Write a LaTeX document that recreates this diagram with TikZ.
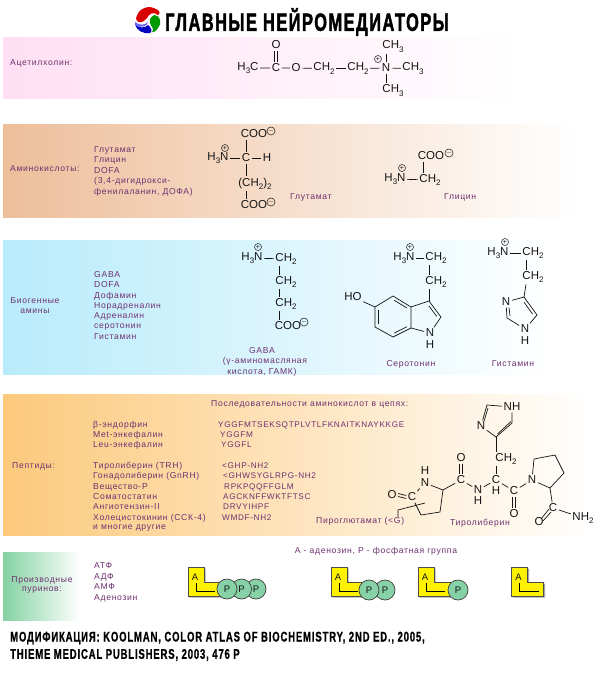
\documentclass[tikz,border=0pt]{standalone}
\usepackage{fontspec}
\setmainfont{Liberation Sans}
\newfontfamily\labfont[LetterSpace=8]{Liberation Sans}
\newfontfamily\chemfont{Liberation Sans}
\newfontfamily\headfont[FakeStretch=0.655,FakeBold=1.6,LetterSpace=6]{Liberation Sans Bold}
\newfontfamily\footfont[FakeStretch=0.68,FakeBold=0.8,LetterSpace=6]{Liberation Sans Bold}
\usetikzlibrary{calc}
\definecolor{labcol}{HTML}{6E3070}
\definecolor{chemc}{HTML}{151515}
\definecolor{pg}{HTML}{86D2A6}
\definecolor{bpink}{HTML}{FFDFF3}
\definecolor{bbrown}{HTML}{EDBE9A}
\definecolor{bcyan}{HTML}{B8EBFB}
\definecolor{borange}{HTML}{FCC97C}
\definecolor{bgreen}{HTML}{84D2A2}
\newcommand{\lo}[1]{\raisebox{-0.28em}{\fontsize{8}{8}\selectfont #1}}
\tikzset{
 x=1pt,y=-1pt,
 lab/.style={text=labcol,inner sep=0pt,anchor=west,font=\labfont\fontsize{8.6}{9}\selectfont},
 seq/.style={lab,font=\labfont\fontsize{8.2}{9}\selectfont},
 labm/.style={lab,anchor=center,align=center},
 chem/.style={text=chemc,inner sep=1.5pt,font=\chemfont\fontsize{11.5}{12}\selectfont},
 bond/.style={draw=chemc,line width=0.7pt},
 chg/.style={circle,draw=chemc,line width=0.5pt,minimum size=7pt,inner sep=0pt,text=chemc,font=\chemfont\fontsize{7}{7}\selectfont},
 ell/.style={draw=black!70,line width=0.7pt,fill=yellow},
 shad/.style={fill=black!35,draw=none},
 pcirc/.style={circle,draw=black!75,line width=0.7pt,fill=pg,minimum size=20pt,inner sep=0pt,text=chemc,font=\chemfont\fontsize{9.5}{10}\selectfont},
 lettera/.style={inner sep=0pt,text=chemc,font=\chemfont\fontsize{9.5}{10}\selectfont},
 foot/.style={inner sep=0pt,anchor=west,text=black,font=\footfont\fontsize{14}{14}\selectfont},
}
\newcommand{\ellshape}[3]{%
  \fill[shad] (#1+1.5,#2+1.5) -- ++(16,0) -- ++(0,15) -- ++(16,0) -- ++(0,14) -- ++(-32,0) -- cycle;
  \draw[ell] (#1,#2) -- ++(16,0) -- ++(0,15) -- ++(16,0) -- ++(0,14) -- ++(-32,0) -- cycle;
  \node[lettera] (#3a) at (#1+7,#2+10) {A};
  \coordinate (#3p) at (#1+8,#2+16);
  \coordinate (#3q) at (#1+8,#2+24);
  \coordinate (#3r) at (#1+27,#2+24);
  \draw[draw=black,line width=0.7pt] (#3p) -- (#3q) -- (#3r);
}
\begin{document}
\begin{tikzpicture}
\useasboundingbox (0,0) rectangle (600,673);
\fill[white] (0,0) rectangle (600,673);
% bands
\shade[left color=bpink,right color=white] (3,37) rectangle (520,98);
\shade[left color=bbrown,right color=white] (3,124) rectangle (575,217);
\shade[left color=bcyan,right color=white] (3,240) rectangle (550,374);
\shade[left color=borange,right color=white] (3,394) rectangle (590,535);
\shade[left color=bgreen,right color=white] (3,552) rectangle (80,620);
% logo
\fill[red!85!black] (136,19) .. controls (137,10) and (146,5) .. (154,8) .. controls (160,10) and (161,14) .. (158,15) .. controls (153,11) and (149,14) .. (147,18) .. controls (144,22) and (138,25) .. (136,19) -- cycle;
\fill[green!60!black] (155,15) .. controls (161,16) and (162,24) .. (158,28) .. controls (156,31) and (153,33) .. (152,32) .. controls (155,29) and (151,27) .. (150,23) .. controls (149,19) and (152,15) .. (155,15) -- cycle;
\fill[blue!75!black] (135,24) .. controls (137,31) and (143,34) .. (150,33) .. controls (153,32) and (151,27) .. (148,25) .. controls (145,28) and (139,29) .. (135,24) -- cycle;
\fill[blue!60] (135,22) .. controls (140,26) and (145,25) .. (148,22) .. controls (148,26) and (140,29) .. (135,25) -- cycle;
% title
\node[inner sep=0pt,anchor=west,text=black,font=\headfont\fontsize{25}{25}\selectfont] (title) at (165,22) {ГЛАВНЫЕ НЕЙРОМЕДИАТОРЫ};
% acetylcholine
\node[lab] (l1) at (10,63) {Ацетилхолин:};
\node[chem] (a1) at (248,68) {H\lo{3}C};
\node[chem] (a2) at (276,68) {C};
\node[chem] (a3) at (276,45) {O};
\node[chem] (a4) at (296,68) {O};
\node[chem] (a5) at (324,68.5) {CH\lo{2}};
\node[chem] (a6) at (358,68.5) {CH\lo{2}};
\node[chem] (a7) at (386,68) {N};
\node[chem] (a8) at (413,68.5) {CH\lo{3}};
\node[chem] (a9) at (393,46.5) {CH\lo{3}};
\node[chem] (a10) at (393,90.5) {CH\lo{3}};
\node[chg] (a11) at (378,59) {+};
\draw[bond] (a1) -- (a2) (a2) -- (a4) (a4) -- (a5) (a5) -- (a6) (a6) -- (a7) (a7) -- (a8);
\draw[bond] ([xshift=-1.5pt]a2.north) -- ([xshift=-1.5pt]a3.south) ([xshift=1.5pt]a2.north) -- ([xshift=1.5pt]a3.south);
\draw[bond] (a7.north) -- (a9.south -| a7.north) (a7.south) -- (a10.north -| a7.south);
% amino acids
\node[lab] (l2) at (10,169) {Аминокислоты:};
\node[lab] (l2a) at (94,150) {Глутамат};
\node[lab] (l2b) at (94,160) {Глицин};
\node[lab] (l2c) at (94,171) {DOFA};
\node[lab] (l2d) at (94,181) {(3,4-дигидрокси-};
\node[lab] (l2e) at (94,192) {фенилаланин, ДОФА)};
\node[chem] (g1) at (254,134) {COO};
\node[chg] (g2) at (271,131) {$-$};
\node[chg] (g3) at (225,148) {+};
\node[chem] (g4) at (218,158) {H\lo{3}N};
\node[chem] (g5) at (246,158) {C};
\node[chem] (g6) at (267,158) {H};
\node[chem] (g7) at (255,183.5) {(CH\lo{2})\lo{2}};
\node[chem] (g8) at (254,205) {COO};
\node[chg] (g9) at (271,202) {$-$};
\draw[bond] (g4) -- (g5) (g5) -- (g6);
\draw[bond] (g5.north) -- (g1.south -| g5.north) (g5.south) -- (g7.north -| g5.south) (g7.south -| g5.south) -- (g8.north -| g5.south);
\node[lab] (g10) at (290,197) {Глутамат};
\node[chem] (h1) at (431,156) {COO};
\node[chg] (h2) at (449,153) {$-$};
\node[chg] (h3) at (402,168) {+};
\node[chem] (h4) at (395,179) {H\lo{3}N};
\node[chem] (h5) at (430,180) {CH\lo{2}};
\draw[bond] (h4) -- (h5);
\draw[bond] ([xshift=-7pt]h5.north) -- ([xshift=-8pt]h1.south);
\node[lab] (h6) at (444,197) {Глицин};
% biogenic amines
\node[labm] (l3a) at (35,301) {Биогенные};
\node[labm] (l3b) at (35,311) {амины};
\node[lab] (b1) at (94,275) {GABA};
\node[lab] (b2) at (94,285) {DOFA};
\node[lab] (b3) at (94,296) {Дофамин};
\node[lab] (b4) at (94,306) {Норадреналин};
\node[lab] (b5) at (94,316) {Адреналин};
\node[lab] (b6) at (94,327) {серотонин};
\node[lab] (b7) at (94,337) {Гистамин};
% GABA
\node[chem] (c1) at (252,258) {H\lo{3}N};
\node[chg] (c2) at (258,247) {+};
\node[chem] (c3) at (286,259) {CH\lo{2}};
\node[chem] (c4) at (286,282) {CH\lo{2}};
\node[chem] (c5) at (286,304) {CH\lo{2}};
\node[chem] (c6) at (288,326) {COO};
\node[chg] (c7) at (304,322) {$-$};
\draw[bond] (c1) -- (c3);
\draw[bond] ([xshift=-7pt]c3.south) -- ([xshift=-7pt]c4.north);
\draw[bond] ([xshift=-7pt]c4.south) -- ([xshift=-7pt]c5.north);
\draw[bond] ([xshift=-7pt]c5.south) -- ([xshift=-9pt]c6.north);
\node[labm] (c8) at (262,351) {GABA};
\node[labm] (c9) at (265,361) {(γ-аминомасляная};
\node[labm] (c10) at (262,372) {кислота, ГАМК)};
% serotonin
\node[chem] (s1) at (404,258) {H\lo{3}N};
\node[chg] (s2) at (410,247) {+};
\node[chem] (s3) at (436,258) {CH\lo{2}};
\node[chem] (s4) at (436,282) {CH\lo{2}};
\node[chem] (s5) at (353,297) {HO};
\node[chem] (s6) at (430,333) {N};
\node[chem] (s7) at (430,345) {H};
\coordinate (r1) at (393,296);
\coordinate (r2) at (411,307);
\coordinate (r3) at (411,328);
\coordinate (r4) at (393,337);
\coordinate (r5) at (375,327);
\coordinate (r6) at (375,307);
\coordinate (r7) at (429,301);
\coordinate (r8) at (441,317);
\draw[bond] (s1) -- (s3);
\draw[bond] ([xshift=-7pt]s3.south) -- ([xshift=-7pt]s4.north);
\draw[bond] ([xshift=-7pt]s4.south) -- (r7);
\draw[bond] (s5) -- (r6) -- (r1) -- (r2) -- (r3) -- (r4) -- (r5) -- (r6);
\draw[bond] (r2) -- (r7) -- (r8) -- (s6) -- (r3);
\draw[bond] ($(r5)!0.15!(r6)+(3,0)$) -- ($(r5)!0.85!(r6)+(3,0)$);
\draw[bond] ($(r1)!0.15!(r2)+(-1.5,2.6)$) -- ($(r1)!0.85!(r2)+(-1.5,2.6)$);
\draw[bond] ($(r3)!0.15!(r4)+(-1.5,-2.6)$) -- ($(r3)!0.85!(r4)+(-1.5,-2.6)$);
\draw[bond] ($(r7)!0.2!(r8)+(-2.5,1.7)$) -- ($(r7)!0.85!(r8)+(-2.5,1.7)$);
\node[labm] (s8) at (411,364) {Серотонин};
% histamine
\node[chem] (t1) at (498,253) {H\lo{3}N};
\node[chg] (t2) at (505,242) {+};
\node[chem] (t3) at (533,253) {CH\lo{2}};
\node[chem] (t4) at (533,277) {CH\lo{2}};
\node[chem] (t5) at (506,302) {N};
\node[chem] (t6) at (525,329) {N};
\node[chem] (t7) at (525,341) {H};
\coordinate (u1) at (524,297);
\coordinate (u2) at (537,315);
\coordinate (u3) at (507,318);
\draw[bond] (t1) -- (t3);
\draw[bond] ([xshift=-7pt]t3.south) -- ([xshift=-7pt]t4.north);
\draw[bond] ([xshift=-7pt]t4.south) -- (u1);
\draw[bond] (t5) -- (u1) -- (u2) -- (t6) -- (u3) -- (t5);
\draw[bond] ($(u1)!0.2!(u2)+(-2.5,1.7)$) -- ($(u1)!0.85!(u2)+(-2.5,1.7)$);
\draw[bond] ($(t5.south)+(3,0)$) -- ($(u3)+(3,-2)$);
\node[labm] (t8) at (513,364) {Гистамин};
% peptides
\node[lab] (l4) at (12,466) {Пептиды:};
\node[lab] (p0) at (211,404) {Последовательности аминокислот в цепях:};
\node[lab] (p1) at (93,425) {β-эндорфин};
\node[lab] (p2) at (93,435) {Met-энкефалин};
\node[lab] (p3) at (93,445) {Leu-энкефалин};
\node[lab] (p4) at (93,466) {Тиролиберин (TRH)};
\node[lab] (p5) at (93,476) {Гонадолиберин (GnRH)};
\node[lab] (p6) at (93,487) {Вещество-Р};
\node[lab] (p7) at (93,497) {Соматостатин};
\node[lab] (p8) at (93,507) {Ангиотензин-II};
\node[lab] (p9) at (93,518) {Холецистокинин (ССК-4)};
\node[lab] (p10) at (93,528) {и многие другие};
\node[seq] (q1) at (218,425) {YGGFMTSEKSQTPLVTLFKNAITKNAYKKGE};
\node[seq] (q2) at (220,435) {YGGFM};
\node[seq] (q3) at (221,445) {YGGFL};
\node[seq] (q4) at (222,466) {<GHP-NH2};
\node[seq] (q5) at (223,476) {<GHWSYGLRPG-NH2};
\node[seq] (q6) at (224,487) {RPKPQQFFGLM};
\node[seq] (q7) at (223,497) {AGCKNFFWKTFTSC};
\node[seq] (q8) at (223,507) {DRVYIHPF};
\node[seq] (q9) at (222,518) {WMDF-NH2};
\node[lab] (q10) at (316,521) {Пироглютамат (<G)};
\node[labm] (q11) at (480,523) {Тиролиберин};
% TRH structure
\node[chem] (v1) at (512,407) {NH};
\node[chem] (v2) at (481,426) {N};
\coordinate (v3) at (487,405);
\coordinate (v4) at (496,437);
\coordinate (v5) at (512,423);
\node[chem] (v6) at (506,459) {CH\lo{2}};
\node[chem] (v7) at (496,480) {C};
\node[chem] (v8) at (496,491) {H};
\node[chem] (v9) at (478,490) {N};
\node[chem] (v10) at (478,501) {H};
\node[chem] (v11) at (461,480) {C};
\node[chem] (v12) at (461,458) {O};
\coordinate (v13) at (443,490);
\node[chem] (v14) at (425,483) {N};
\node[chem] (v15) at (425,471) {H};
\node[chem] (v16) at (412,497) {C};
\node[chem] (v17) at (392,495) {O};
\coordinate (v18) at (440,512);
\coordinate (v19) at (421,515);
\coordinate (v20) at (425,503);
\coordinate (v21) at (398,510);
\coordinate (v22) at (398,517);
\node[chem] (v23) at (514,491) {C};
\node[chem] (v24) at (514,514) {O};
\node[chem] (v25) at (532,480) {N};
\coordinate (v26) at (534,459);
\coordinate (v27) at (555,455);
\coordinate (v28) at (564,473);
\coordinate (v29) at (550,488);
\node[chem] (v30) at (553,508) {C};
\node[chem] (v31) at (539,522) {O};
\node[chem] (v32) at (583,518) {NH\lo{2}};
\draw[bond] (v1) -- (v3) -- (v2) -- (v4) -- (v5) -- (v1);
\draw[bond] ($(v3)+(1,3)$) -- ($(v2.north)+(3,1)$);
\draw[bond] ($(v4)+(1.5,-3)$) -- ($(v5)+(-1,-1.5)$);
\draw[bond] (v4) -- (v4 |- v6.north);
\draw[bond] (v4 |- v6.south) -- (v7);
\draw[bond] (v7) -- (v9) (v9) -- (v11) (v11) -- (v13) -- (v14) -- (v16);
\draw[bond] (v7) -- (v23) (v23) -- (v25) (v25) -- (v26) -- (v27) -- (v28) -- (v29) -- (v25);
\draw[bond] (v29) -- (v30) (v30) -- (v32);
\draw[bond] ([xshift=-1.5pt]v11.north) -- ([xshift=-1.5pt]v12.south) ([xshift=1.5pt]v11.north) -- ([xshift=1.5pt]v12.south);
\draw[bond] ([xshift=-1.5pt]v23.south) -- ([xshift=-1.5pt]v24.north) ([xshift=1.5pt]v23.south) -- ([xshift=1.5pt]v24.north);
\draw[bond] ($(v30)+(-4,1)$) -- ($(v31)+(2,-3)$) ($(v30)+(-2,4)$) -- ($(v31)+(4,-1)$);
\draw[bond] ([yshift=-1.5pt]v16.west) -- ([yshift=-1.5pt]v17.east) ([yshift=1.5pt]v16.west) -- ([yshift=1.5pt]v17.east);
\draw[bond] (v13) -- (v18) -- (v19) -- (v16);
\draw[bond] (v20) -- (v21) -- (v22);
% purines
\node[labm] (l5a) at (42,580) {Производные};
\node[labm] (l5b) at (42,590) {пуринов:};
\node[lab] (d1) at (94,566) {АТФ};
\node[lab] (d2) at (94,577) {АДФ};
\node[lab] (d3) at (94,587) {АМФ};
\node[lab] (d4) at (94,598) {Аденозин};
\node[labm] (d5) at (376,551) {А - аденозин, Р - фосфатная группа};
\ellshape{188}{567}{e}
\ellshape{331}{567}{f}
\ellshape{418}{567}{g}
\ellshape{511.5}{567}{k}
\node[pcirc] (e1) at (256,589) {P};
\node[pcirc] (e2) at (241.5,589) {P};
\node[pcirc] (e3) at (227,589) {P};
\node[pcirc] (f1) at (385,590) {P};
\node[pcirc] (f2) at (369,590) {P};
\node[pcirc] (g1c) at (458,590) {P};
% footer
\node[foot] (z1) at (10,638) {МОДИФИКАЦИЯ: KOOLMAN, COLOR ATLAS OF BIOCHEMISTRY, 2ND ED., 2005,};
\node[foot] (z2) at (10,655) {THIEME MEDICAL PUBLISHERS, 2003, 476 P};
\end{tikzpicture}
\end{document}
